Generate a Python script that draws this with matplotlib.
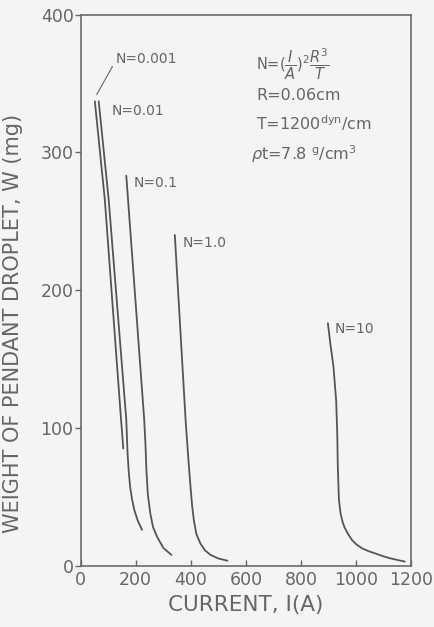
import matplotlib
matplotlib.use("Agg")
import matplotlib.pyplot as plt

# Data (current in A, weight in mg)
n0001_I = [52, 88, 147, 151, 155]
n0001_W = [337, 266, 106, 96, 85]

n001_I = [66, 102, 166, 170.5, 175, 180, 187, 195, 207, 223]
n001_W = [337, 266, 106, 82, 68, 57, 48, 40.5, 33, 26]

n01_I = [166, 231, 236, 239, 244, 253, 263, 277.6, 300, 329.7]
n01_W = [283, 106, 86, 69.5, 52, 38, 28, 21, 13, 7.8]

n1_I = [342, 381, 392, 399, 405, 411, 420, 435, 452, 472, 500, 533]
n1_W = [240, 106, 75, 57, 43, 33, 23, 16, 11, 7.8, 5.2, 3.6]

n10_I = [897, 906, 917, 927, 931, 933, 937, 943, 950, 957, 970, 985,
         1000, 1022, 1045, 1067, 1095, 1120, 1150, 1176]
n10_W = [176, 161, 145, 120, 96, 72, 48, 38, 32, 28, 23, 18.5,
         15.5, 12.5, 10.5, 9, 7, 5.5, 4.1, 3]

curve_labels = ["N=0.001", "N=0.01", "N=0.1", "N=1.0", "N=10"]
x_ticks = [0, 200, 400, 600, 800, 1000, 1200]
y_ticks = [0, 100, 200, 300, 400]

bg = "#f4f4f2"
ink = "#666666"
line_c = "#555555"

plt.rcParams['font.family'] = ['DejaVu Sans']
plt.rcParams['mathtext.fontset'] = 'dejavusans'
fig = plt.figure(figsize=(4.34, 6.27), dpi=100, facecolor=bg)
ax = fig.add_axes([0.1855, 0.0978, 0.7625, 0.879])
ax.set_facecolor(bg)

for xs, ys in [(n0001_I, n0001_W), (n001_I, n001_W), (n01_I, n01_W),
               (n1_I, n1_W), (n10_I, n10_W)]:
    ax.plot(xs, ys, color=line_c, lw=1.3, solid_capstyle='round',
            solid_joinstyle='round')

ax.set_xlim(0, 1200)
ax.set_ylim(0, 400)
ax.set_xticks(x_ticks)
ax.set_yticks(y_ticks)
ax.tick_params(axis='x', direction='in', length=4, width=1, colors=ink,
               labelsize=12.5, pad=4)
ax.tick_params(axis='y', direction='out', length=4, width=1, colors=ink,
               labelsize=12.5, pad=1)
for s in ax.spines.values():
    s.set_color("#6a6a6a")
    s.set_linewidth(1.2)

ax.set_xlabel("CURRENT, I(A)", fontsize=15.5, color=ink, labelpad=4)
ax.set_ylabel("WEIGHT OF PENDANT DROPLET, W (mg)", fontsize=15, color=ink)
ax.yaxis.set_label_coords(-0.175, 0.44)

fs = 10
ax.annotate(curve_labels[0], xy=(59, 342), xytext=(126, 368), fontsize=fs,
            color=ink, va='center', ha='left',
            arrowprops=dict(arrowstyle='-', color=ink, lw=0.8,
                            shrinkA=0, shrinkB=0, relpos=(0, 0.3)))
ax.text(114, 330, curve_labels[1], fontsize=fs, color=ink, va='center')
ax.text(191, 278, curve_labels[2], fontsize=fs, color=ink, va='center')
ax.text(369, 234, curve_labels[3], fontsize=fs, color=ink, va='center')
ax.text(920, 172, curve_labels[4], fontsize=fs, color=ink, va='center')

fs2 = 11.5
ax.text(636, 364, r"N=$(\dfrac{I}{A})^2\dfrac{R^3}{T}$", fontsize=fs2 - 1,
        color=ink, va='center')
ax.text(636, 341, "R=0.06cm", fontsize=fs2, color=ink, va='center')
ax.text(636, 321, r"T=1200$^{\rm dyn}$/cm", fontsize=fs2, color=ink,
        va='center')
ax.text(618, 299, r"$\rho$t=7.8 $^{\rm g}$/cm$^3$", fontsize=fs2, color=ink,
        va='center')

fig.savefig("out.png", dpi=100, facecolor=bg)
